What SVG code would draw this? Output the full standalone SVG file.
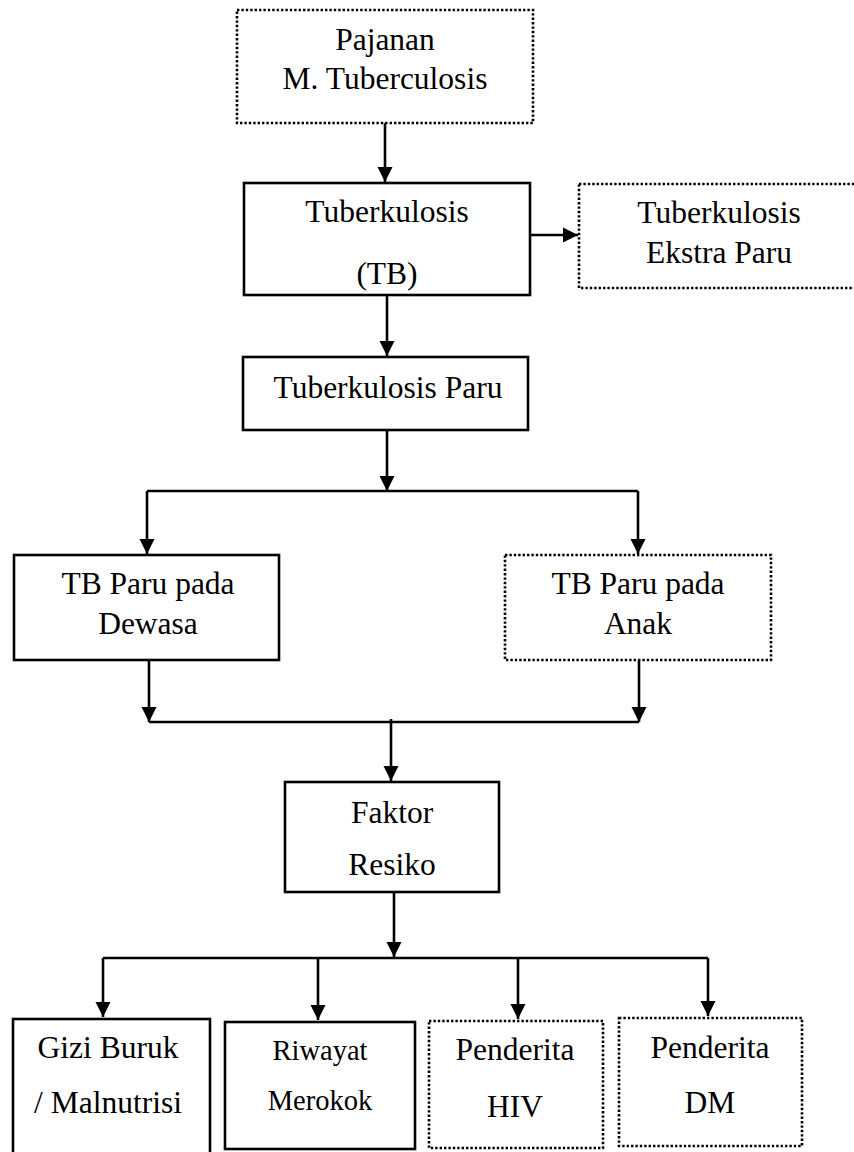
<svg xmlns="http://www.w3.org/2000/svg" width="854" height="1152" viewBox="0 0 854 1152">
<style>
.solid{fill:#fff;stroke:#000;stroke-width:2.6}
.dot{fill:#fff;stroke:#000;stroke-width:2.6;stroke-dasharray:2.4 2}
text{font-family:'Liberation Serif','Times New Roman','DejaVu Serif',serif;font-size:31.5px;fill:#000;text-anchor:middle}
text.ts{font-size:28.5px}
.c{fill:none;stroke:#000;stroke-width:2.6}
</style>
<defs>
<marker id="ah" markerUnits="userSpaceOnUse" markerWidth="16" markerHeight="16" refX="15" refY="8" orient="auto">
<path d="M0,0.5 L15,8 L0,15.5 z" fill="#000"/>
</marker>
</defs>
<rect width="854" height="1152" fill="#fff"/>
<g id="connectors">
<line class="c" x1="385" y1="123" x2="385" y2="182" marker-end="url(#ah)"/>
<line class="c" x1="530" y1="235" x2="578" y2="235" marker-end="url(#ah)"/>
<line class="c" x1="387" y1="296" x2="387" y2="356" marker-end="url(#ah)"/>
<line class="c" x1="387" y1="430" x2="387" y2="491" marker-end="url(#ah)"/>
<line class="c" x1="147" y1="491" x2="638" y2="491"/>
<line class="c" x1="147" y1="491" x2="147" y2="554" marker-end="url(#ah)"/>
<line class="c" x1="638" y1="491" x2="638" y2="554" marker-end="url(#ah)"/>
<line class="c" x1="149" y1="660" x2="149" y2="722" marker-end="url(#ah)"/>
<line class="c" x1="639" y1="660" x2="639" y2="722" marker-end="url(#ah)"/>
<line class="c" x1="149" y1="722" x2="639" y2="722"/>
<line class="c" x1="391" y1="719" x2="391" y2="781" marker-end="url(#ah)"/>
<line class="c" x1="394" y1="892" x2="394" y2="957" marker-end="url(#ah)"/>
<line class="c" x1="103" y1="958" x2="708" y2="958"/>
<line class="c" x1="103" y1="958" x2="103" y2="1017" marker-end="url(#ah)"/>
<line class="c" x1="318" y1="958" x2="318" y2="1020" marker-end="url(#ah)"/>
<line class="c" x1="518" y1="958" x2="518" y2="1019" marker-end="url(#ah)"/>
<line class="c" x1="708" y1="958" x2="708" y2="1016" marker-end="url(#ah)"/>
</g>
<g id="pajanan">
<rect class="dot" x="237" y="10" width="296" height="113"/>
<text x="385" y="50">Pajanan</text>
<text x="385" y="89">M. Tuberculosis</text>
</g>
<g id="tb">
<rect class="solid" x="244" y="183" width="286" height="112"/>
<text x="387" y="222">Tuberkulosis</text>
<text x="387" y="284">(TB)</text>
</g>
<g id="ekstra">
<rect class="dot" x="579" y="184" width="300" height="104"/>
<text x="719" y="223">Tuberkulosis</text>
<text x="719" y="263">Ekstra Paru</text>
</g>
<g id="paru">
<rect class="solid" x="243" y="357" width="285" height="73"/>
<text x="388" y="398">Tuberkulosis Paru</text>
</g>
<g id="dewasa">
<rect class="solid" x="14" y="555" width="265" height="105"/>
<text x="148" y="594">TB Paru pada</text>
<text x="148" y="634">Dewasa</text>
</g>
<g id="anak">
<rect class="dot" x="505" y="555" width="266" height="105"/>
<text x="638" y="594">TB Paru pada</text>
<text x="638" y="634">Anak</text>
</g>
<g id="faktor">
<rect class="solid" x="285" y="782" width="214" height="110"/>
<text x="392" y="823">Faktor</text>
<text x="392" y="875">Resiko</text>
</g>
<g id="gizi">
<rect class="solid" x="13" y="1019" width="197" height="150"/>
<text x="108" y="1058">Gizi Buruk</text>
<text x="108" y="1113">/ Malnutrisi</text>
</g>
<g id="riwayat">
<rect class="solid" x="225" y="1022" width="190" height="127"/>
<text class="ts" x="320" y="1060">Riwayat</text>
<text class="ts" x="320" y="1110">Merokok</text>
</g>
<g id="hiv">
<rect class="dot" x="429" y="1021" width="174" height="127"/>
<text x="515" y="1060">Penderita</text>
<text x="515" y="1117">HIV</text>
</g>
<g id="dm">
<rect class="dot" x="619" y="1018" width="183" height="128"/>
<text x="710" y="1058">Penderita</text>
<text x="710" y="1113">DM</text>
</g>
</svg>
